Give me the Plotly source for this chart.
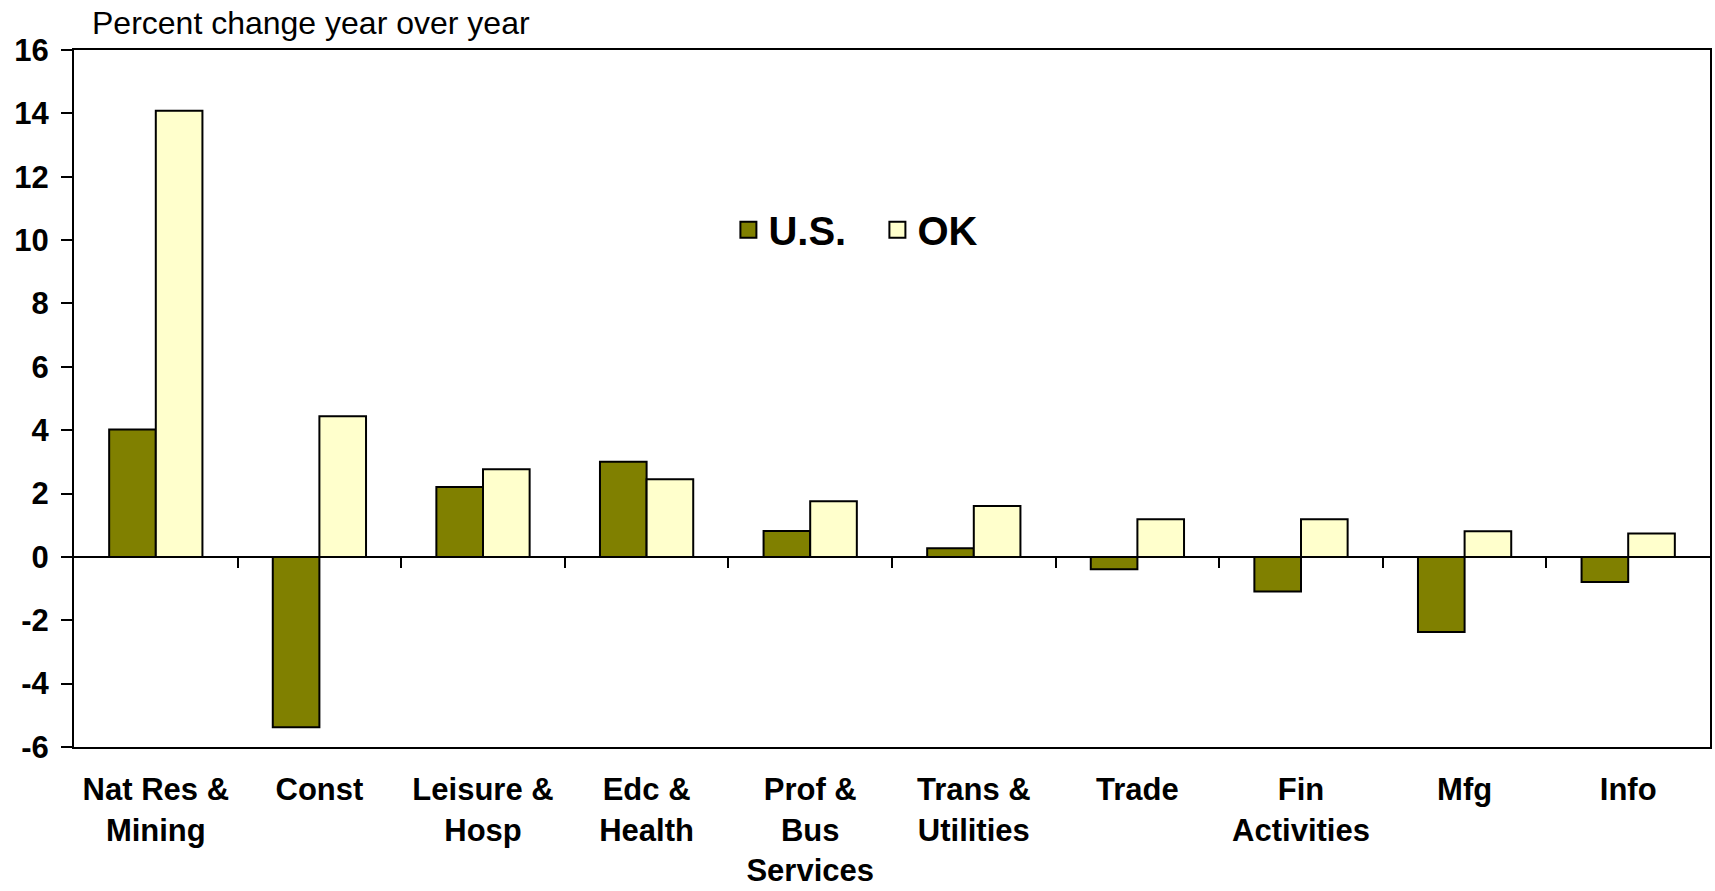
import numpy as np
import plotly.graph_objs as go

# data
categories = ["Nat Res &<br>Mining", "Const", "Leisure &<br>Hosp", "Edc &<br>Health",
              "Prof &<br>Bus<br>Services", "Trans &<br>Utilities", "Trade",
              "Fin<br>Activities", "Mfg", "Info"]
us_values = [4.02, -5.38, 2.21, 3.0, 0.82, 0.27, -0.39, -1.09, -2.37, -0.79]
ok_values = [14.08, 4.44, 2.77, 2.45, 1.76, 1.61, 1.19, 1.19, 0.81, 0.74]
y_ticks = [-6, -4, -2, 0, 2, 4, 6, 8, 10, 12, 14, 16]

US_COLOR = "#808000"
OK_COLOR = "#FFFFCC"
FONT = "Liberation Sans, Arial, sans-serif"

x_idx = list(range(len(categories)))

fig = go.Figure()
fig.add_trace(go.Bar(x=x_idx, y=us_values, name="U.S.", showlegend=False,
                     marker=dict(color=US_COLOR, line=dict(color="black", width=2))))
fig.add_trace(go.Bar(x=x_idx, y=ok_values, name="OK", showlegend=False,
                     marker=dict(color=OK_COLOR, line=dict(color="black", width=2))))

# legend entries (bigger square swatches than the bar default)
for name, col in [("U.S.", US_COLOR), ("OK", OK_COLOR)]:
    fig.add_trace(go.Scatter(x=[None], y=[None], mode="markers", name=name,
                             marker=dict(symbol="square", size=16, color=col,
                                         line=dict(color="black", width=2))))

# invisible trace so the zero-line axis exists
fig.add_trace(go.Scatter(x=[None], y=[None], xaxis="x2", showlegend=False))

fig.update_layout(
    width=1715, height=891,
    margin=dict(l=74, r=5, t=50, b=144),
    paper_bgcolor="white", plot_bgcolor="white",
    font=dict(family=FONT, color="black"),
    barmode="group", bargap=0.43, bargroupgap=0,
    legend=dict(orientation="h", x=0.400, xanchor="left", y=0.742, yanchor="middle",
                font=dict(size=40, family=FONT, weight="bold"),
                itemwidth=30, entrywidth=104, tracegroupgap=0, bgcolor="rgba(0,0,0,0)"),
    xaxis=dict(range=[-0.5, len(categories) - 0.5], tickmode="array",
               tickvals=x_idx, ticktext=categories, ticks="",
               tickfont=dict(size=31, family=FONT, weight="bold"),
               ticklabelstandoff=14, automargin=False,
               showline=True, linecolor="black", linewidth=2, mirror=True,
               showgrid=False, zeroline=False),
    xaxis2=dict(overlaying="x", anchor="free", position=6 / 22,
                range=[-0.5, len(categories) - 0.5],
                tickmode="array", tickvals=list(np.arange(len(categories) - 1) + 0.5),
                ticks="outside", ticklen=10, tickwidth=2, tickcolor="black",
                showticklabels=False, showline=True, linecolor="black", linewidth=2,
                showgrid=False, zeroline=False),
    yaxis=dict(range=[-6, 16], tickmode="array", tickvals=y_ticks,
               ticktext=[str(v) for v in y_ticks],
               ticks="outside", ticklen=11, tickwidth=2, tickcolor="black",
               tickfont=dict(size=31, family=FONT, weight="bold"),
               ticklabelstandoff=6, automargin=False,
               showline=True, linecolor="black", linewidth=2, mirror=True,
               showgrid=False, zeroline=False),
)

fig.add_annotation(text="Percent change year over year", xref="paper", yref="paper",
                   x=0, y=1, xanchor="left", yanchor="middle", xshift=16, yshift=27,
                   showarrow=False, font=dict(size=32, family=FONT, color="black"))

# drop the default 8px body margin so the figure fills the window exactly
fig.write_html("out.html", config={"displayModeBar": False},
               post_script="document.body.style.margin='0';")
